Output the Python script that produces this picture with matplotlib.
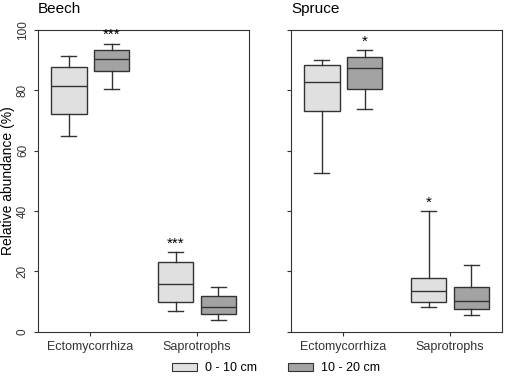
import matplotlib
matplotlib.use("Agg")
import matplotlib.pyplot as plt
from matplotlib.patches import Patch

plt.rcParams['font.family'] = ['Liberation Sans', 'DejaVu Sans']

categories = ["Ectomycorrhiza", "Saprotrophs"]
depths = ["0 - 10 cm", "10 - 20 cm"]
colors = ["#e0e0e0", "#a3a3a3"]

# box stats per site: [category][depth] = (whislo, q1, med, q3, whishi)
beech = [
    [(65.0, 72.2, 81.4, 87.6, 91.5), (80.5, 86.4, 90.4, 93.2, 95.5)],
    [(6.8, 9.7, 15.8, 23.1, 26.3), (3.7, 5.7, 8.0, 11.7, 14.9)],
]
spruce = [
    [(52.7, 73.0, 82.6, 88.4, 90.0), (73.8, 80.3, 87.4, 91.1, 93.2)],
    [(8.2, 9.9, 13.6, 17.9, 40.0), (5.6, 7.6, 10.1, 14.9, 22.2)],
]
# significance labels [category][depth]
beech_sig = [["", "***"], ["***", ""]]
spruce_sig = [["", "*"], ["*", ""]]

fig = plt.figure(figsize=(5.06, 3.79), dpi=100)
ax1 = fig.add_axes([0.075, 0.125, 0.418, 0.796])
ax2 = fig.add_axes([0.575, 0.125, 0.418, 0.796])

def draw(ax, data, sig, title, show_labels):
    for ci, cat in enumerate(data):
        for di, s in enumerate(cat):
            pos = ci + (di - 0.5) * 0.4
            st = dict(whislo=s[0], q1=s[1], med=s[2], q3=s[3], whishi=s[4], fliers=[])
            ax.bxp([st], positions=[pos], widths=0.33, patch_artist=True,
                   showfliers=False,
                   boxprops=dict(facecolor=colors[di], edgecolor="#333333", linewidth=1),
                   medianprops=dict(color="#333333", linewidth=1),
                   whiskerprops=dict(color="#333333", linewidth=1),
                   capprops=dict(color="#333333", linewidth=1),
                   capwidths=0.14)
            if sig[ci][di]:
                ax.text(pos, s[4] + 0.5, sig[ci][di], ha="center", va="bottom", fontsize=11)
    ax.set_xlim(-0.49, 1.49)
    ax.set_ylim(0, 100)
    ax.set_xticks([0, 1])
    ax.set_xticklabels(categories, fontsize=9)
    ax.set_yticks([0, 20, 40, 60, 80, 100])
    if show_labels:
        ax.set_yticklabels(["0", "20", "40", "60", "80", "100"], rotation=90,
                           va="center", fontsize=8.5, color="#333333")
        ax.set_ylabel("Relative abundance (%)", fontsize=10)
        ax.yaxis.set_label_coords(-0.109, 0.5)
    else:
        ax.set_yticklabels([])
    ax.tick_params(direction="out", length=3, width=0.8, colors="#333333")
    for sp in ax.spines.values():
        sp.set_linewidth(0.8)
        sp.set_color("#333333")
    ax.text(0.0, 1.045, title, transform=ax.transAxes, fontsize=11, ha="left", va="bottom")

draw(ax1, beech, beech_sig, "Beech", True)
draw(ax2, spruce, spruce_sig, "Spruce", False)

handles = [Patch(facecolor=c, edgecolor="#333333", linewidth=0.8) for c in colors]
fig.legend(handles, depths, loc="center", bbox_to_anchor=(276 / 506, 1 - 368 / 379),
           ncol=2, frameon=False, fontsize=9, handlelength=2.0, handleheight=0.6,
           columnspacing=2.5, handletextpad=0.6)

fig.savefig("out.png", dpi=100)
